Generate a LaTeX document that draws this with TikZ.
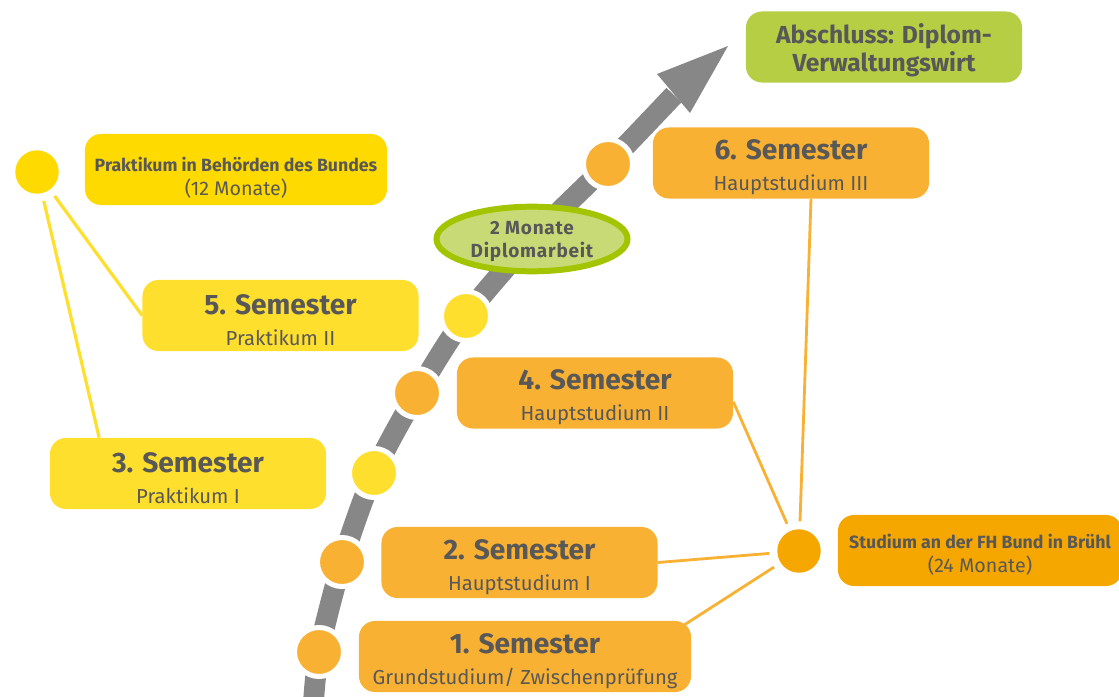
\documentclass[tikz,border=0pt]{standalone}
\usepackage{fontspec}
\setmainfont{Fira Sans}
\usepackage{xcolor}
\usetikzlibrary{shapes,arrows,positioning}

\definecolor{txtgray}{RGB}{88,88,88}
\definecolor{semorange}{RGB}{248,177,51}
\definecolor{fhorange}{RGB}{245,167,0}
\definecolor{praktyellow}{RGB}{255,218,0}
\definecolor{semyellow}{RGB}{255,223,45}
\definecolor{absgreen}{RGB}{182,206,68}
\definecolor{dafill}{RGB}{200,218,117}
\definecolor{daborder}{RGB}{163,196,0}
\definecolor{arrowgray}{RGB}{135,135,135}

% strut that pushes the text block down in its box
\newcommand{\topgap}[1]{\rule{0pt}{#1}}
\newcommand{\semtext}[2]{{\fontsize{20}{22}\selectfont\bfseries\topgap{20.5pt}#1}\\#2}

\begin{document}
\begin{tikzpicture}[x=0.025cm, y=-0.025cm,
  box/.style={rectangle, rounded corners=0.4cm, align=center, text=txtgray, minimum height=1.775cm, inner sep=0pt},
  semo/.style={box, fill=semorange, minimum width=6.9cm, font=\fontsize{14.4}{22}\selectfont},
  semy/.style={box, fill=semyellow, minimum width=6.9cm, font=\fontsize{14.4}{22}\selectfont},
  dot/.style={circle, minimum size=1.225cm, inner sep=0pt, draw=white, line width=0.125cm},
  hub/.style={circle, minimum size=1.085cm, inner sep=0pt, outer sep=0.2cm},
  oline/.style={semorange, line width=0.07cm},
  yline/.style={semyellow, line width=0.08cm}]
  \useasboundingbox (0,0) rectangle (1119,697);

  % arrow of the course
  \draw[arrowgray, line width=0.52cm] plot[smooth, tension=0.5] coordinates
    {(313,710) (319,652) (342,562) (374,473) (417,393) (466,316) (532,239) (608,164) (674,95)};
  \fill[arrowgray] (657,74) -- (728,46) -- (690,113) -- cycle;

  \node[dot, fill=semorange] (d1) at (319,652) {};
  \node[dot, fill=semorange] (d2) at (342,562) {};
  \node[dot, fill=semyellow] (d3) at (374,473) {};
  \node[dot, fill=semorange] (d4) at (417,393) {};
  \node[dot, fill=semyellow] (d5) at (466,316) {};
  \node[dot, fill=semorange] (d6) at (608,164) {};
  \node[ellipse, draw=daborder, fill=dafill, line width=0.15cm, minimum width=4.775cm, minimum height=1.525cm, inner sep=0pt, align=center, text=txtgray, font=\fontsize{13.5}{16.5}\selectfont\bfseries\addfontfeatures{LetterSpace=4}] (thesis) at (532,239) {\topgap{13pt}2 Monate\\Diplomarbeit};

  % boxes
  \node[box, fill=absgreen, minimum width=6.9cm, font=\fontsize{17.5}{19.5}\selectfont\bfseries] (degree) at (884,47) {\topgap{19pt}Abschluss: Diplom-\\Verwaltungswirt};
  \node[semo] (sem6) at (791,163) {\semtext{6. Semester}{Hauptstudium III}};
  \node[semy] (sem5) at (280.5,315.5) {\semtext{5. Semester}{Praktikum II}};
  \node[semo] (sem4) at (595,393) {\semtext{4. Semester}{Hauptstudium II}};
  \node[semy] (sem3) at (188,473.5) {\semtext{3. Semester}{Praktikum I}};
  \node[semo] (sem2) at (519.5,562.5) {\semtext{2. Semester}{Hauptstudium I}};
  \node[semo, minimum width=8.3cm] (sem1) at (525,656.5) {\semtext{1. Semester}{Grundstudium/ Zwischenprüfung}};

  \node[box, fill=praktyellow, minimum width=7.55cm, font=\fontsize{14}{17}\selectfont] (prakt) at (236,169.5) {{\fontsize{12.6}{17}\selectfont\bfseries\topgap{21.5pt}Praktikum in Behörden des Bundes}\\(12 Monate)};
  \node[box, fill=fhorange, minimum width=7.1cm, font=\fontsize{14}{17.5}\selectfont] (fh) at (980,550.5) {{\fontsize{12.6}{17.5}\selectfont\bfseries\topgap{16.3pt}Studium an der FH Bund in Brühl}\\(24 Monate)};

  \node[hub, fill=praktyellow] (ph) at (37,172) {};
  \node[hub, fill=fhorange] (fhh) at (799,551) {};

  % connectors
  \draw[yline] (ph) -- (sem5.west);
  \draw[yline] (ph) -- ([xshift=-2.22cm]sem3.north);
  \draw[oline] ([xshift=0.5cm]sem6.south) -- (fhh);
  \draw[oline] ([yshift=-0.22cm]sem4.east) -- (fhh);
  \draw[oline] (sem2.east) -- (fhh);
  \draw[oline] ([xshift=-0.2cm,yshift=-0.12cm]sem1.north east) -- (fhh);
\end{tikzpicture}
\end{document}
